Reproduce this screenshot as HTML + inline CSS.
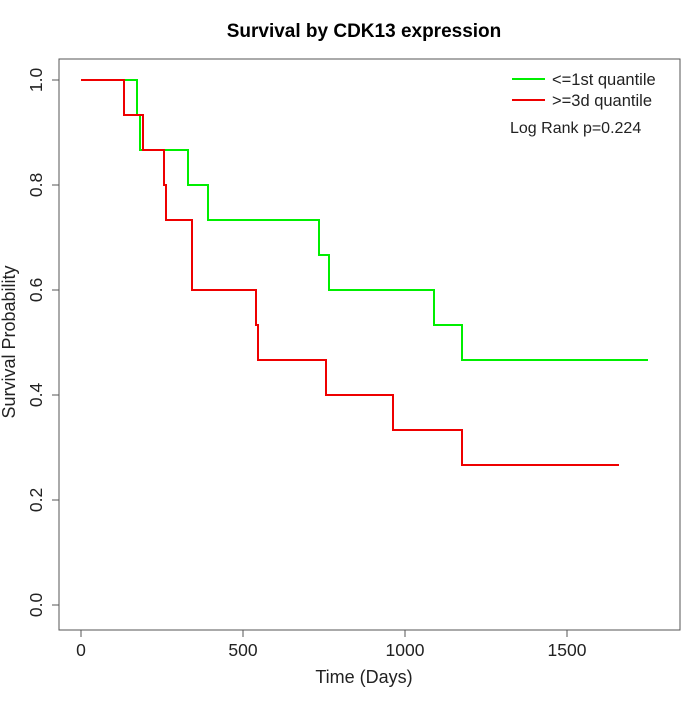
<!DOCTYPE html><html><head><style>body{margin:0;background:#fff}svg{font-family:"Liberation Sans",sans-serif}</style></head><body>
<svg width="700" height="700" viewBox="0 0 700 700">
<rect x="59" y="59" width="621" height="571" fill="none" stroke="#555" stroke-width="1"/>
<text x="364" y="37" text-anchor="middle" font-size="19" font-weight="bold">Survival by CDK13 expression</text>
<g stroke="#555" fill="none">
<path d="M81 630v7M243 630v7M405 630v7M567 630v7M59 80h-7M59 185h-7M59 290h-7M59 395h-7M59 500h-7M59 605h-7"/>
</g>
<g font-size="17.5" fill="#222" text-anchor="middle">
<text x="81" y="656">0</text><text x="243" y="656">500</text><text x="405" y="656">1000</text><text x="567" y="656">1500</text>
<text x="364" y="683" font-size="18">Time (Days)</text>
<g transform="rotate(-90)">
<text x="-80" y="42">1.0</text><text x="-185" y="42">0.8</text><text x="-290" y="42">0.6</text><text x="-395" y="42">0.4</text><text x="-500" y="42">0.2</text><text x="-605" y="42">0.0</text>
<text x="-342" y="15" font-size="18">Survival Probability</text>
</g></g>
<path fill="none" stroke="#00ee00" stroke-width="2" d="M81 80H137V115H140V150H188V185H208V220H319V255H329V290H434V325H462V360H648"/>
<path fill="none" stroke="#ee0000" stroke-width="2" d="M81 80H124V115H143V150H164V185H166V220H192V290H256V325H258V360H326V395H393V430H462V465H619"/>
<path stroke="#00ee00" stroke-width="2" d="M512 79H545"/><path stroke="#ee0000" stroke-width="2" d="M512 100H545"/>
<g font-size="16.5" fill="#222"><text x="552" y="85">&lt;=1st quantile</text><text x="552" y="106">&gt;=3d quantile</text><text x="510" y="133" font-size="16">Log Rank p=0.224</text></g>
</svg></body></html>
